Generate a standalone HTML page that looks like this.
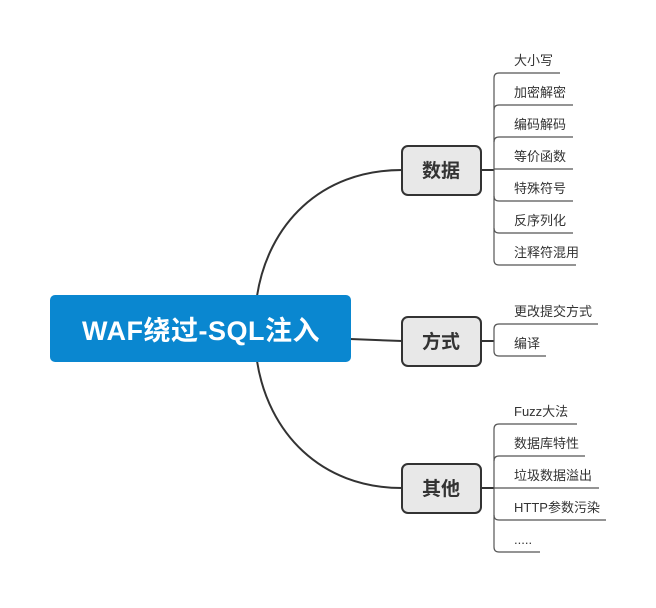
<!DOCTYPE html>
<html><head><meta charset="utf-8"><style>
body{margin:0;background:#fff;width:656px;height:603px;overflow:hidden}
svg text{font-family:"Liberation Sans","Noto Sans CJK SC",sans-serif}
</style></head><body>
<svg width="656" height="603" viewBox="0 0 656 603" xmlns="http://www.w3.org/2000/svg">
<g fill="none" stroke="#333" stroke-width="2">
<path d="M257,296 C268,225 320,170 402,170"/>
<path d="M350,339 L402,341"/>
<path d="M257,361 C268,432 320,488 402,488"/>
<path d="M481,170 L494,170 M481,341 L494,341 M481,488 L494,488"/>
</g>
<g fill="none" stroke="#555" stroke-width="1.2">
<path d="M494,78 Q494,73 499,73 L560,73"/>
<path d="M494,260 Q494,265 499,265 L576,265 M494,78 L494,260"/>
<path d="M494,110 Q494,105 499,105 L573,105"/>
<path d="M494,142 Q494,137 499,137 L573,137"/>
<path d="M494,169 L573,169"/>
<path d="M494,196 Q494,201 499,201 L573,201"/>
<path d="M494,228 Q494,233 499,233 L573,233"/>
<path d="M494,329 Q494,324 499,324 L598,324 M494,329 L494,351 Q494,356 499,356 L546,356"/>
<path d="M494,429 Q494,424 499,424 L577,424"/>
<path d="M494,461 Q494,456 499,456 L585,456"/>
<path d="M494,488 L599,488"/>
<path d="M494,515 Q494,520 499,520 L606,520"/>
<path d="M494,547 Q494,552 499,552 L540,552 M494,429 L494,547"/>
</g>
<rect x="50" y="295" width="301" height="67" rx="5" fill="#0a87d0"/>
<text x="201" y="340" text-anchor="middle" font-size="27" font-weight="bold" letter-spacing="0.5" fill="#fff">WAF绕过-SQL注入</text>
<g fill="#e8e8e8" stroke="#333" stroke-width="2">
<rect x="402" y="146" width="79" height="49" rx="6"/>
<rect x="402" y="317" width="79" height="49" rx="6"/>
<rect x="402" y="464" width="79" height="49" rx="6"/>
</g>
<g font-size="19" font-weight="bold" fill="#333" text-anchor="middle">
<text x="441" y="177">数据</text>
<text x="441" y="348">方式</text>
<text x="441" y="495">其他</text>
</g>
<g font-size="13" fill="#333">
<text x="514" y="65">大小写</text>
<text x="514" y="97">加密解密</text>
<text x="514" y="129">编码解码</text>
<text x="514" y="161">等价函数</text>
<text x="514" y="193">特殊符号</text>
<text x="514" y="225">反序列化</text>
<text x="514" y="257">注释符混用</text>
<text x="514" y="316">更改提交方式</text>
<text x="514" y="348">编译</text>
<text x="514" y="416">Fuzz大法</text>
<text x="514" y="448">数据库特性</text>
<text x="514" y="480">垃圾数据溢出</text>
<text x="514" y="512">HTTP参数污染</text>
<text x="514" y="544">.....</text>
</g>
</svg>
</body></html>
